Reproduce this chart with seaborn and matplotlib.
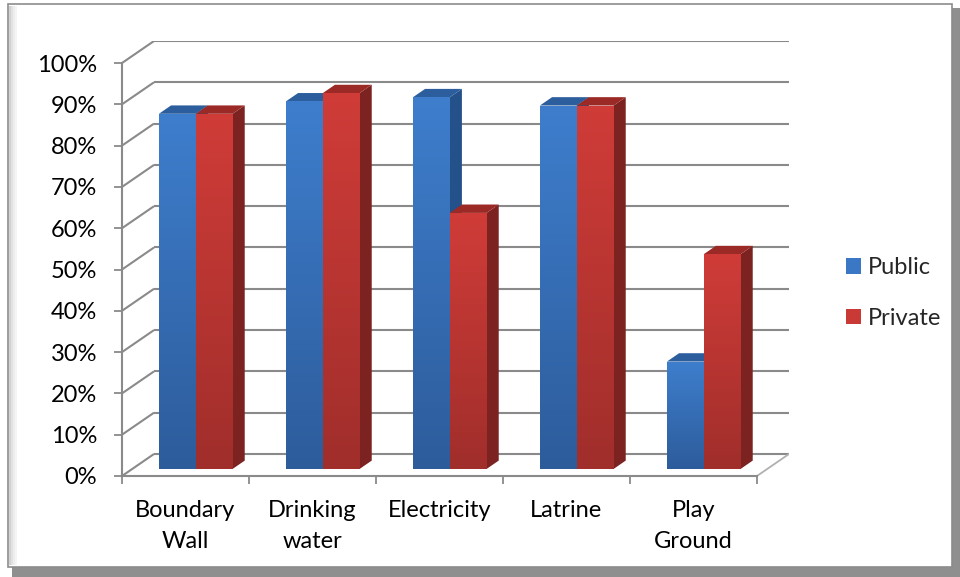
import numpy as np
import pandas as pd
import matplotlib
matplotlib.use("Agg")
import matplotlib.pyplot as plt
import seaborn as sns
from matplotlib.patches import Polygon, Rectangle
from matplotlib.colors import LinearSegmentedColormap

# ---- data -------------------------------------------------------------
categories = ["Boundary\nWall", "Drinking\nwater", "Electricity", "Latrine", "Play\nGround"]
series = ["Public", "Private"]
public = [86, 89, 90, 88, 26]
private = [86, 91, 62, 88, 52]
y_ticks = list(range(0, 101, 10))

df = pd.DataFrame({
    "facility": categories * 2,
    "type": [series[0]] * len(categories) + [series[1]] * len(categories),
    "share": public + private,
})

# ---- style ------------------------------------------------------------
sns.set_theme(style="white")
plt.rcParams["font.family"] = ["Lato", "DejaVu Sans"]
FS = 17
GRID = "#8a8a8a"

face_top = {"Public": "#3E7ECD", "Private": "#D03C38"}
face_bot = {"Public": "#2D5C9B", "Private": "#A02E2B"}
side_col = {"Public": "#25518A", "Private": "#7C2321"}
roof_col = {"Public": "#2C5E9E", "Private": "#9B2926"}

# oblique depth: full depth shift in data units, bar plane and bar thickness
DX, DY = 0.252, 5.33
F = 0.32          # depth of the bars' front faces (0 = front, 1 = back wall)
BD = 0.38         # bar thickness as a fraction of full depth
fx, fy = F * DX, F * DY
bx, by = (1 - F) * DX, (1 - F) * DY
bdx, bdy = BD * DX, BD * DY

W, H = 960, 577
fig = plt.figure(figsize=(W / 100, H / 100), dpi=100)
fig.patch.set_facecolor("white")


def px_box(x0, y0, x1, y1):
    return [x0 / W, 1 - y1 / H, (x1 - x0) / W, (y1 - y0) / H]


# outer frame with drop shadow
fig.add_artist(Rectangle((12 / W, 0), (W - 12) / W, (H - 8) / H,
                         transform=fig.transFigure, facecolor="#8f8f8f",
                         edgecolor="none", zorder=-3))
fig.add_artist(Rectangle((8 / W, 1 - 567 / H), (952 - 8) / W, (567 - 4) / H,
                         transform=fig.transFigure, facecolor="white",
                         edgecolor="#8c8c8c", linewidth=1.2, zorder=-2))
for k, c in enumerate(["#d2d2d2", "#e2e2e2", "#ededed", "#f5f5f5"]):
    fig.add_artist(Rectangle(((9 + 2 * k) / W, 1 - 565 / H), 2 / W, (565 - 6) / H,
                             transform=fig.transFigure, facecolor=c,
                             edgecolor="none", zorder=-1))

ax = fig.add_axes(px_box(122, 41, 789, 476))
ax.set_facecolor("none")

sns.barplot(data=df, x="facility", y="share", hue="type", order=categories,
            hue_order=series, palette=face_top, width=0.58, saturation=1,
            legend=False, errorbar=None, ax=ax, zorder=3, linewidth=0,
            edgecolor="none")

ax.set_xlim(-0.5 - fx, len(categories) - 0.5 + bx)
ax.set_ylim(-fy, 100 + by)

# back wall, side wall and floor
x_front_l = -0.5 - fx
x_back_l = -0.5 + bx
x_back_r = len(categories) - 0.5 + bx
x_front_r = len(categories) - 0.5 - fx
for v in y_ticks:
    ax.plot([x_front_l, x_back_l], [v - fy, v + by], color=GRID, lw=1.5,
            zorder=1, solid_capstyle="butt")
    ax.plot([x_back_l, x_back_r], [v + by, v + by], color=GRID, lw=1.5,
            zorder=1, solid_capstyle="butt")
ax.plot([x_front_r, x_back_r], [-fy, by], color="#b0b0b0", lw=1.3, zorder=1)

# 3D faces for each bar
cmaps = {s: LinearSegmentedColormap.from_list(s, [face_bot[s], face_top[s]])
         for s in series}
grad = np.linspace(0, 1, 256).reshape(-1, 1)
bars = sorted(ax.patches, key=lambda p: p.get_x())
for p in bars:
    x0, w, h = p.get_x(), p.get_width(), p.get_height()
    cat = int(round(x0 + w))  # shared edge for the pair sits at the category
    s = series[0] if x0 + w / 2 < cat else series[1]
    zbase = 2.0 if s == series[0] else 2.2
    x1 = x0 + w
    ax.add_patch(Polygon([(x1, 0), (x1, h), (x1 + bdx, h + bdy), (x1 + bdx, bdy)],
                         closed=True, facecolor=side_col[s], edgecolor="none",
                         zorder=zbase))
    ax.add_patch(Polygon([(x0, h), (x1, h), (x1 + bdx, h + bdy), (x0 + bdx, h + bdy)],
                         closed=True, facecolor=roof_col[s], edgecolor="none",
                         zorder=zbase + 0.1))
    im = ax.imshow(grad, extent=[x0, x1, 0, h], cmap=cmaps[s], aspect="auto",
                   origin="lower", zorder=3.1, interpolation="bilinear")
    im.set_clip_path(p)

ax.set_xlim(-0.5 - fx, len(categories) - 0.5 + bx)
ax.set_ylim(-fy, 100 + by)

# front axes
for side in ["top", "right"]:
    ax.spines[side].set_visible(False)
ax.spines["left"].set_position(("data", x_front_l))
ax.spines["left"].set_bounds(-fy, 100 - fy)
ax.spines["bottom"].set_position(("data", -fy))
ax.spines["bottom"].set_bounds(x_front_l, x_front_r)
for side in ["left", "bottom"]:
    ax.spines[side].set_color(GRID)
    ax.spines[side].set_linewidth(1.5)
    ax.spines[side].set_zorder(1.5)

ax.set_yticks([v - fy for v in y_ticks], labels=[f"{v}%" for v in y_ticks])
ax.set_xticks([i - 0.5 - fx for i in range(len(categories) + 1)], labels=[])
ax.set_xticks([i - fx for i in range(len(categories))], labels=categories,
              minor=True)
ax.tick_params(axis="y", direction="out", length=6, width=1.3, color=GRID,
               labelsize=FS, pad=12, labelcolor="black", left=True)
ax.tick_params(axis="x", which="major", direction="out", length=6, width=1.3,
               color=GRID, bottom=True)
ax.tick_params(axis="x", which="minor", length=0, labelsize=FS, pad=17,
               labelcolor="black")
for t in ax.get_xticklabels(minor=True):
    t.set_linespacing(1.6)
ax.set_xlabel("")
ax.set_ylabel("")

# legend
handles = [Rectangle((0, 0), 1, 1, facecolor=c, edgecolor="none")
           for c in ["#3A78C6", "#C93A36"]]
fig.legend(handles, series, loc="center left",
           bbox_to_anchor=(834 / W, 1 - 293 / H), frameon=False,
           fontsize=FS, handlelength=0.65, handleheight=0.65, handletextpad=0.3,
           labelspacing=1.25, borderpad=0)

fig.savefig("out.png", dpi=100)
